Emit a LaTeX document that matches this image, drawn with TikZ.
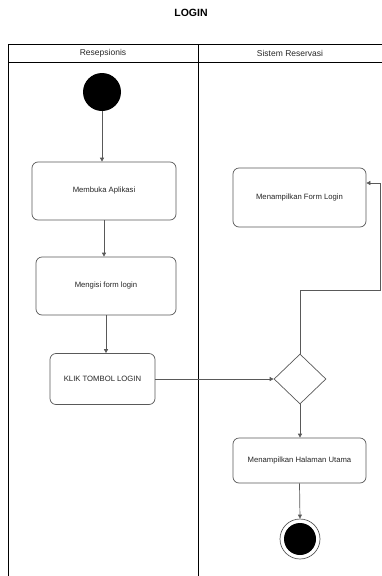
\documentclass[tikz,border=0pt]{standalone}
\usepackage{fontspec}
\setmainfont{Liberation Sans}
\usetikzlibrary{shapes.geometric,arrows.meta}
\begin{document}
\begin{tikzpicture}[x=1pt,y=-1pt,
  lane/.style={draw=black,line width=0.8pt},
  act/.style={draw=black!65,line width=0.7pt,rounded corners=6pt,fill=white,font=\fontsize{7.7}{9}\selectfont,text=black!85,inner sep=0pt},
  flow/.style={draw=black!65,line width=0.7pt,-{Triangle[length=4pt,width=4pt]}},
  hdr/.style={font=\fontsize{8.5}{10}\selectfont,text=black!85}
]
\useasboundingbox (0,0) rectangle (382,576);
% swimlanes
\draw[lane] (382,44) -- (8,44) -- (8,576);
\draw[lane] (8,62) -- (382,62);
\draw[lane] (198,44) -- (198,576);
\node[font=\fontsize{10.5}{12}\selectfont\bfseries] (title) at (191,13) {LOGIN};
\node[hdr] (h1) at (103,53) {Resepsionis};
\node[hdr] (h2) at (290,53) {Sistem Reservasi};
% nodes
\node[circle,fill=black,minimum size=38pt,inner sep=0pt] (start) at (102,92) {};
\node[act,minimum width=144pt,minimum height=58pt] (buka) at (104,191) {Membuka Aplikasi};
\node[act,minimum width=140pt,minimum height=58pt] (isi) at (106,286) {Mengisi form login};
\node[act,minimum width=105pt,minimum height=51pt] (klik) at (102.5,379) {KLIK TOMBOL LOGIN};
\node[act,minimum width=133pt,minimum height=59pt] (form) at (299.5,197.5) {Menampilkan Form Login};
\node[diamond,draw=black!65,line width=0.7pt,fill=white,minimum width=52pt,minimum height=50pt,inner sep=0pt] (dec) at (300,379) {};
\node[act,minimum width=133pt,minimum height=45pt] (utama) at (299.5,460.5) {Menampilkan Halaman Utama};
\node[circle,draw=black!65,line width=0.7pt,fill=white,minimum size=40pt,inner sep=0pt] (endo) at (300,539) {};
\node[circle,fill=black,minimum size=32pt,inner sep=0pt] (endi) at (300,539) {};
\coordinate (c1) at (300,290);
\coordinate (c2) at (380,290);
\coordinate (c3) at (380,183);
% connectors
\draw[flow] (start.south) -- (start.south |- buka.north);
\draw[flow] (buka.south) -- (buka.south |- isi.north);
\draw[flow] (isi.south) -- (isi.south |- klik.north);
\draw[flow] (klik.east) -- (dec.west);
\draw[flow] (dec.north) -- (c1) -- (c2) -- (c3) -- (form.east |- c3);
\draw[flow] (dec.south) -- (dec.south |- utama.north);
\draw[flow] (utama.south) -- (endo.north);
\end{tikzpicture}
\end{document}
